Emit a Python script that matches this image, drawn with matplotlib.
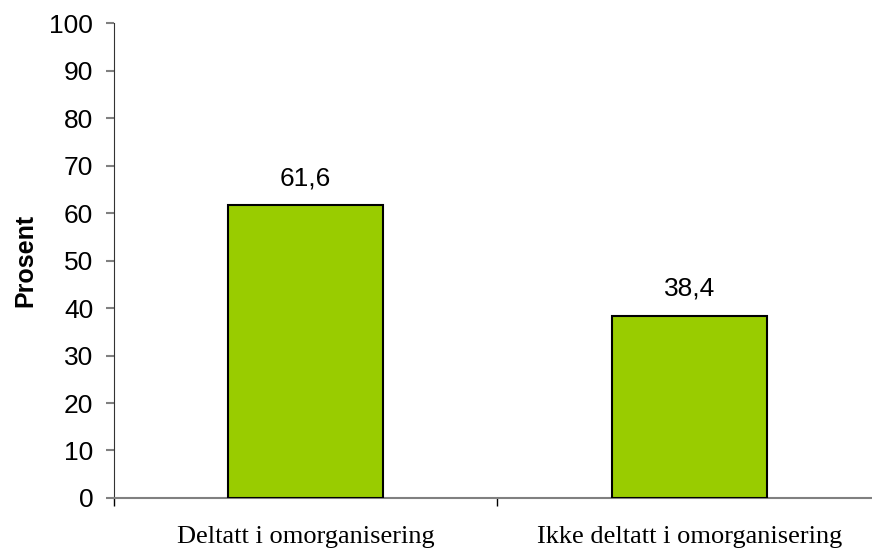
import matplotlib.pyplot as plt

# Chart data
categories = ['Deltatt i omorganisering', 'Ikke deltatt i omorganisering']
values = [61.6, 38.4]
value_labels = ['61,6', '38,4']
y_ticks = list(range(0, 101, 10))

fig = plt.figure(figsize=(8.72, 5.51), dpi=100)
ax = fig.add_axes([0.1307, 0.0962, 0.8796, 0.862])

positions = [i + 0.5 for i in range(len(categories))]
ax.bar(positions, values, width=0.404, color='#99CC00', edgecolor='black', linewidth=1.5, zorder=3)

for x, v, lab in zip(positions, values, value_labels):
    ax.annotate(lab, (x, v), xytext=(0, 11), textcoords='offset points',
                ha='center', va='bottom', fontsize=19, family='Liberation Sans')

ax.set_xlim(0, len(categories))
ax.set_ylim(0, 100)
ax.set_yticks(y_ticks)
ax.set_yticklabels([str(t) for t in y_ticks], family='Liberation Sans', fontsize=19)

# category labels between boundary ticks
ax.set_xticks(positions)
ax.set_xticklabels(categories, family='Liberation Serif', fontsize=19)
ax.set_xticks(range(len(categories) + 1), minor=True)
ax.tick_params(axis='x', which='major', length=0, pad=20)
ax.tick_params(axis='x', which='minor', length=6, width=1, color='black', direction='out')
ax.tick_params(axis='y', length=6, width=1.5, color='#808080', pad=9)

for side in ['top', 'right']:
    ax.spines[side].set_visible(False)
ax.spines['left'].set_color('#333333')
ax.spines['bottom'].set_color('#808080')
ax.spines['bottom'].set_linewidth(1.5)

ax.set_ylabel('Prosent', family='Liberation Sans', fontsize=18, fontweight='bold')
ax.yaxis.set_label_coords(-0.1004, 0.5)

fig.savefig('out.png', dpi=100)
